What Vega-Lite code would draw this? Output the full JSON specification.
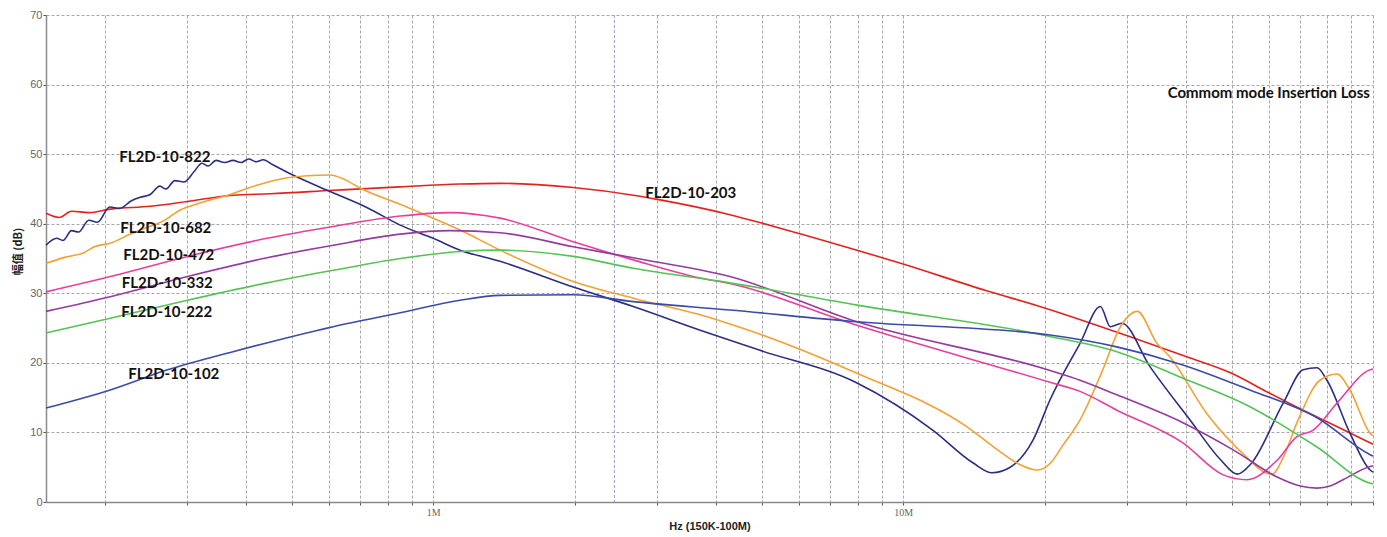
{
  "$schema": "https://vega.github.io/schema/vega-lite/v6.json",
  "width": 1327,
  "height": 487,
  "autosize": {"type": "none"},
  "padding": {"left": 46, "top": 15, "right": 14, "bottom": 35},
  "background": "white",
  "config": {"view": {"stroke": null}},
  "datasets": {
    "curves": [
      {"s":"203","f":150000,"db":41.5},{"s":"203","f":160000,"db":40.9},{"s":"203","f":170000,"db":41.8},{"s":"203","f":185000,"db":41.6},{"s":"203","f":205500,"db":42.1},{"s":"203","f":250000,"db":42.5},{"s":"203","f":300000,"db":43.2},{"s":"203","f":375000,"db":44.1},{"s":"203","f":450000,"db":44.3},{"s":"203","f":613000,"db":44.8},{"s":"203","f":850000,"db":45.3},{"s":"203","f":1141000,"db":45.7},{"s":"203","f":1400000,"db":45.8},{"s":"203","f":1986000,"db":45.2},{"s":"203","f":2665000,"db":44.1},{"s":"203","f":3000000,"db":43.5},{"s":"203","f":4280000,"db":41.3},{"s":"203","f":5000000,"db":40.1},{"s":"203","f":6000000,"db":38.6},{"s":"203","f":7980000,"db":36.2},{"s":"203","f":10000000,"db":34.2},{"s":"203","f":15000000,"db":30.4},{"s":"203","f":20000000,"db":27.9},{"s":"203","f":30000000,"db":23.9},{"s":"203","f":40000000,"db":20.9},{"s":"203","f":50000000,"db":18.5},{"s":"203","f":60000000,"db":15.7},{"s":"203","f":70000000,"db":13.4},{"s":"203","f":80000000,"db":11.5},{"s":"203","f":90000000,"db":9.8},{"s":"203","f":100000000,"db":8.3},

      {"s":"822","f":150000,"db":36.9},{"s":"822","f":158000,"db":37.9},{"s":"822","f":163000,"db":37.6},{"s":"822","f":170000,"db":39.0},{"s":"822","f":176000,"db":38.8},{"s":"822","f":185000,"db":40.5},{"s":"822","f":193000,"db":40.2},{"s":"822","f":205000,"db":42.4},{"s":"822","f":215000,"db":42.2},{"s":"822","f":228000,"db":43.3},{"s":"822","f":238000,"db":43.8},{"s":"822","f":250000,"db":44.2},{"s":"822","f":262000,"db":45.4},{"s":"822","f":270000,"db":45.0},{"s":"822","f":282000,"db":46.2},{"s":"822","f":295000,"db":46.0},{"s":"822","f":310000,"db":47.5},{"s":"822","f":322000,"db":48.7},{"s":"822","f":332000,"db":48.3},{"s":"822","f":345000,"db":49.1},{"s":"822","f":360000,"db":48.8},{"s":"822","f":375000,"db":49.1},{"s":"822","f":390000,"db":48.8},{"s":"822","f":405000,"db":49.3},{"s":"822","f":420000,"db":48.9},{"s":"822","f":435000,"db":49.2},{"s":"822","f":455000,"db":48.5},{"s":"822","f":489000,"db":47.4},{"s":"822","f":595000,"db":44.8},{"s":"822","f":724000,"db":42.3},{"s":"822","f":851000,"db":39.8},{"s":"822","f":1000000,"db":37.9},{"s":"822","f":1141000,"db":36.2},{"s":"822","f":1388000,"db":34.6},{"s":"822","f":1986000,"db":30.9},{"s":"822","f":2665000,"db":28.1},{"s":"822","f":3700000,"db":24.7},{"s":"822","f":4960000,"db":21.8},{"s":"822","f":7980000,"db":17.1},{"s":"822","f":11580000,"db":10.3},{"s":"822","f":14100000,"db":5.6},{"s":"822","f":15460000,"db":4.2},{"s":"822","f":16900000,"db":5.0},{"s":"822","f":18900000,"db":8.9},{"s":"822","f":20550000,"db":14.7},{"s":"822","f":23800000,"db":22.8},{"s":"822","f":26300000,"db":28.1},{"s":"822","f":27600000,"db":25.2},{"s":"822","f":29200000,"db":25.7},{"s":"822","f":33500000,"db":19.5},{"s":"822","f":40800000,"db":11.8},{"s":"822","f":47500000,"db":6.0},{"s":"822","f":51400000,"db":4.0},{"s":"822","f":55000000,"db":5.5},{"s":"822","f":64400000,"db":14.2},{"s":"822","f":71000000,"db":19.0},{"s":"822","f":76000000,"db":19.3},{"s":"822","f":79800000,"db":17.5},{"s":"822","f":89300000,"db":9.9},{"s":"822","f":98600000,"db":4.6},{"s":"822","f":100000000,"db":4.3},

      {"s":"682","f":150000,"db":34.3},{"s":"682","f":165000,"db":35.2},{"s":"682","f":180000,"db":35.8},{"s":"682","f":190000,"db":36.7},{"s":"682","f":205500,"db":37.2},{"s":"682","f":225000,"db":38.4},{"s":"682","f":246000,"db":39.5},{"s":"682","f":265000,"db":40.3},{"s":"682","f":290000,"db":42.0},{"s":"682","f":320000,"db":43.0},{"s":"682","f":365000,"db":44.1},{"s":"682","f":420000,"db":45.5},{"s":"682","f":489000,"db":46.6},{"s":"682","f":540000,"db":46.9},{"s":"682","f":604000,"db":47.0},{"s":"682","f":650000,"db":46.3},{"s":"682","f":700000,"db":45.1},{"s":"682","f":851000,"db":42.8},{"s":"682","f":1000000,"db":40.8},{"s":"682","f":1141000,"db":39.1},{"s":"682","f":1388000,"db":36.2},{"s":"682","f":1986000,"db":31.7},{"s":"682","f":2665000,"db":29.3},{"s":"682","f":3700000,"db":26.9},{"s":"682","f":4280000,"db":25.6},{"s":"682","f":7980000,"db":18.5},{"s":"682","f":13680000,"db":10.8},{"s":"682","f":16100000,"db":7.2},{"s":"682","f":17700000,"db":5.4},{"s":"682","f":19300000,"db":4.6},{"s":"682","f":20600000,"db":5.6},{"s":"682","f":21800000,"db":8.0},{"s":"682","f":23800000,"db":11.8},{"s":"682","f":26600000,"db":19.0},{"s":"682","f":28900000,"db":25.0},{"s":"682","f":31500000,"db":27.4},{"s":"682","f":34700000,"db":22.8},{"s":"682","f":36900000,"db":20.9},{"s":"682","f":44300000,"db":12.7},{"s":"682","f":54700000,"db":6.0},{"s":"682","f":58000000,"db":4.5},{"s":"682","f":61000000,"db":4.0},{"s":"682","f":64500000,"db":6.5},{"s":"682","f":68900000,"db":11.4},{"s":"682","f":77100000,"db":17.5},{"s":"682","f":83800000,"db":18.4},{"s":"682","f":89300000,"db":16.1},{"s":"682","f":98600000,"db":9.9},{"s":"682","f":100000000,"db":9.5},

      {"s":"472","f":150000,"db":30.2},{"s":"472","f":205500,"db":32.4},{"s":"472","f":300000,"db":35.3},{"s":"472","f":443000,"db":37.9},{"s":"472","f":613000,"db":39.6},{"s":"472","f":851000,"db":41.1},{"s":"472","f":1087000,"db":41.6},{"s":"472","f":1388000,"db":40.8},{"s":"472","f":1986000,"db":37.4},{"s":"472","f":2665000,"db":34.8},{"s":"472","f":3700000,"db":32.2},{"s":"472","f":4280000,"db":31.4},{"s":"472","f":7980000,"db":25.4},{"s":"472","f":20550000,"db":17.2},{"s":"472","f":23800000,"db":15.9},{"s":"472","f":28500000,"db":13.2},{"s":"472","f":39400000,"db":8.5},{"s":"472","f":48000000,"db":3.9},{"s":"472","f":53900000,"db":3.2},{"s":"472","f":62500000,"db":6.0},{"s":"472","f":68900000,"db":9.4},{"s":"472","f":74500000,"db":10.3},{"s":"472","f":83800000,"db":14.2},{"s":"472","f":98600000,"db":19.0},{"s":"472","f":100000000,"db":19.1},

      {"s":"332","f":150000,"db":27.4},{"s":"332","f":205500,"db":29.5},{"s":"332","f":300000,"db":32.4},{"s":"332","f":443000,"db":35.1},{"s":"332","f":613000,"db":36.9},{"s":"332","f":851000,"db":38.5},{"s":"332","f":1087000,"db":39.0},{"s":"332","f":1388000,"db":38.7},{"s":"332","f":1986000,"db":36.7},{"s":"332","f":2665000,"db":35.1},{"s":"332","f":4280000,"db":32.4},{"s":"332","f":7980000,"db":25.9},{"s":"332","f":20550000,"db":18.9},{"s":"332","f":23800000,"db":17.5},{"s":"332","f":28500000,"db":15.4},{"s":"332","f":39400000,"db":11.4},{"s":"332","f":50400000,"db":7.5},{"s":"332","f":62500000,"db":3.6},{"s":"332","f":70000000,"db":2.3},{"s":"332","f":76000000,"db":2.0},{"s":"332","f":81000000,"db":2.3},{"s":"332","f":86300000,"db":3.2},{"s":"332","f":98600000,"db":5.1},{"s":"332","f":100000000,"db":5.2},

      {"s":"222","f":150000,"db":24.3},{"s":"222","f":205500,"db":26.4},{"s":"222","f":300000,"db":29.0},{"s":"222","f":443000,"db":31.5},{"s":"222","f":613000,"db":33.3},{"s":"222","f":851000,"db":35.0},{"s":"222","f":1141000,"db":36.0},{"s":"222","f":1388000,"db":36.2},{"s":"222","f":1986000,"db":35.3},{"s":"222","f":2665000,"db":33.6},{"s":"222","f":4280000,"db":31.5},{"s":"222","f":7980000,"db":28.3},{"s":"222","f":20550000,"db":23.8},{"s":"222","f":28500000,"db":21.6},{"s":"222","f":39400000,"db":17.8},{"s":"222","f":54700000,"db":13.7},{"s":"222","f":76000000,"db":7.9},{"s":"222","f":98600000,"db":2.7},{"s":"222","f":100000000,"db":2.6},

      {"s":"102","f":150000,"db":13.5},{"s":"102","f":205500,"db":16.1},{"s":"102","f":272000,"db":19.0},{"s":"102","f":375000,"db":21.6},{"s":"102","f":613000,"db":25.2},{"s":"102","f":851000,"db":27.2},{"s":"102","f":1141000,"db":29.0},{"s":"102","f":1388000,"db":29.7},{"s":"102","f":1986000,"db":29.8},{"s":"102","f":2665000,"db":28.8},{"s":"102","f":4280000,"db":27.6},{"s":"102","f":7980000,"db":25.9},{"s":"102","f":20550000,"db":24.0},{"s":"102","f":28500000,"db":22.3},{"s":"102","f":39400000,"db":19.7},{"s":"102","f":54700000,"db":16.1},{"s":"102","f":76000000,"db":12.1},{"s":"102","f":98600000,"db":6.8},{"s":"102","f":100000000,"db":6.6}
    ],
    "labels": [
      {"t":"FL2D-10-822","f":214800,"db":49.6},
      {"t":"FL2D-10-682","f":215800,"db":39.4},
      {"t":"FL2D-10-472","f":219000,"db":35.5},
      {"t":"FL2D-10-332","f":217400,"db":31.5},
      {"t":"FL2D-10-222","f":216800,"db":27.35},
      {"t":"FL2D-10-102","f":224400,"db":18.35},
      {"t":"FL2D-10-203","f":2826000,"db":44.4}
    ],
    "note": [
      {"t":"Commom mode Insertion Loss","f":98500000,"db":58.8}
    ],
    "marker": [
      {"f":2430000}
    ]
  },
  "layer": [
    {
      "data": {"name": "marker"},
      "mark": {"type": "rule", "color": "#9a9ad8", "strokeDash": [3, 2], "strokeWidth": 1},
      "encoding": {
        "x": {"field": "f", "type": "quantitative", "scale": {"type": "log", "domain": [150000, 100000000], "nice": false},
          "title": "Hz  (150K-100M)",
          "axis": {
            "values": [200000,300000,400000,500000,600000,700000,800000,900000,1000000,2000000,3000000,4000000,5000000,6000000,7000000,8000000,9000000,10000000,20000000,30000000,40000000,50000000,60000000,70000000,80000000,90000000,100000000],
            "labelExpr": "datum.value == 1000000 ? '1M' : (datum.value == 10000000 ? '10M' : '')",
            "grid": true, "gridDash": [3, 2], "gridColor": "#a8a8a8", "gridWidth": 1,
            "tickSize": 3, "tickColor": "#555", "domainColor": "#8a8a8a", "domainWidth": 1.5,
            "labelColor": "#666", "labelFont": "Liberation Sans Narrow", "labelFontSize": 10, "labelPadding": 2, "labelFlush": false,
            "titleFont": "Liberation Sans", "titleFontSize": 11, "titleFontWeight": "bold", "titleColor": "#222",
            "titleY": 24, "titleBaseline": "middle"
          }
        }
      }
    },
    {
      "data": {"name": "curves"},
      "mark": {"type": "line", "strokeWidth": 1.6, "interpolate": "monotone"},
      "encoding": {
        "x": {"field": "f", "type": "quantitative", "title": "Hz  (150K-100M)"},
        "y": {"field": "db", "type": "quantitative", "scale": {"domain": [0, 70], "nice": false},
          "title": "幅值 (dB)",
          "axis": {
            "values": [0,5,10,15,20,25,30,35,40,45,50,55,60,65,70],
            "labelExpr": "datum.value % 10 === 0 ? datum.label : ''",
            "grid": true, "gridDash": [3, 2], "gridColor": "#a8a8a8", "gridWidth": 1,
            "gridOpacity": {"condition": {"test": "datum.value % 10 !== 0", "value": 0}, "value": 1},
            "tickSize": 3, "tickColor": "#555", "domainColor": "#8a8a8a", "domainWidth": 1.5,
            "labelColor": "#666", "labelFont": "Liberation Sans", "labelFontSize": 11, "labelPadding": 1,
            "titleFont": "Noto Sans CJK SC", "titleFontSize": 11, "titleFontWeight": "bold", "titleColor": "#222",
            "titleX": -28, "titleY": 236, "titleAngle": -90, "titleAlign": "center", "titleBaseline": "middle"
          }
        },
        "color": {"field": "s", "type": "nominal", "legend": null,
          "scale": {"domain": ["203","822","682","472","332","222","102"],
                    "range": ["#e5211f","#2c2d84","#f4a033","#e8409a","#933b9f","#55c255","#3a4ca5"]}},
        "detail": {"field": "s"}
      }
    },
    {
      "data": {"name": "labels"},
      "mark": {"type": "text", "align": "left", "baseline": "middle", "font": "Lato", "fontWeight": "bold", "fontSize": 15, "color": "#111"},
      "encoding": {
        "x": {"field": "f", "type": "quantitative", "title": "Hz  (150K-100M)"},
        "y": {"field": "db", "type": "quantitative", "title": "幅值 (dB)"},
        "text": {"field": "t"}
      }
    },
    {
      "data": {"name": "note"},
      "mark": {"type": "text", "align": "right", "baseline": "middle", "font": "Lato", "fontWeight": "bold", "fontSize": 15, "color": "#111"},
      "encoding": {
        "x": {"field": "f", "type": "quantitative", "title": "Hz  (150K-100M)"},
        "y": {"field": "db", "type": "quantitative", "title": "幅值 (dB)"},
        "text": {"field": "t"}
      }
    }
  ]
}
